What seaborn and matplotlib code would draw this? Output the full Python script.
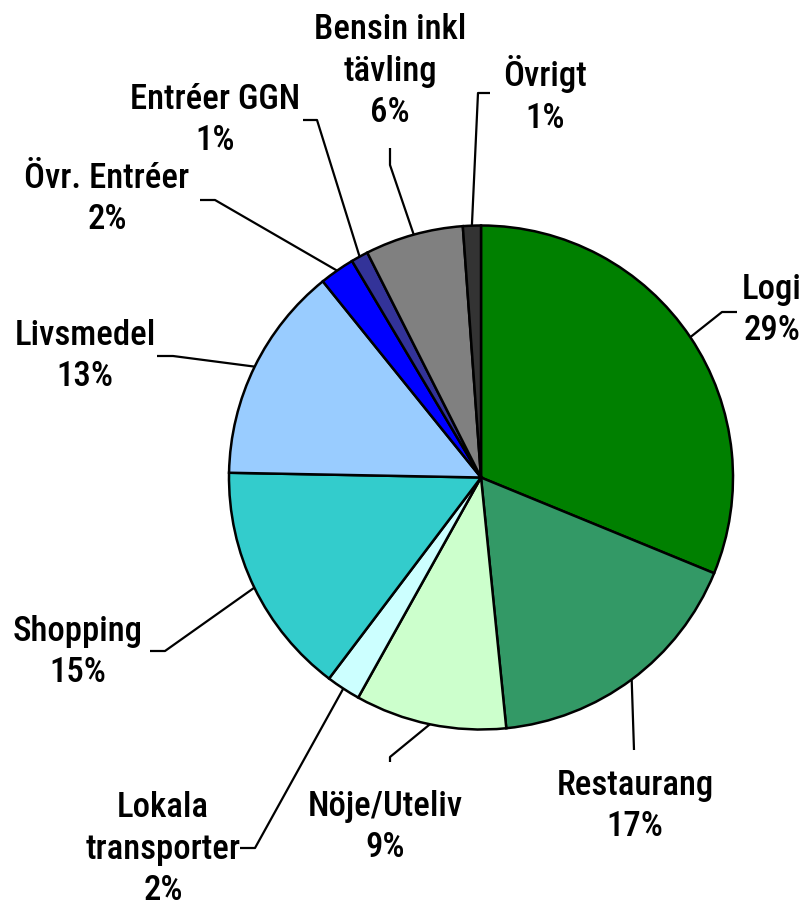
import numpy as np
import matplotlib
matplotlib.use("Agg")
import matplotlib.pyplot as plt
import seaborn as sns

# slice shares, printed labels as in the chart
categories = ["Logi", "Restaurang", "Nöje/Uteliv", "Lokala\ntransporter", "Shopping",
              "Livsmedel", "Övr. Entréer", "Entréer GGN", "Bensin inkl\ntävling", "Övrigt"]
shares = [31.2, 17.2, 9.7, 2.2, 15.0, 13.9, 2.25, 1.1, 6.3, 1.15]
pct_labels = ["29%", "17%", "9%", "2%", "15%", "13%", "2%", "1%", "6%", "1%"]
colors = ["#008000", "#339966", "#CCFFCC", "#CCFFFF", "#33CCCC",
          "#99CCFF", "#0000FF", "#333399", "#808080", "#333333"]

W, H = 805, 908

# label block centres and leader elbows, in pixels from top-left
label_pos = [(772, 310), (635, 806), (385, 827), (163, 849), (78, 652),
             (85, 356), (107, 199), (215, 120), (390, 71), (545, 95)]
leader_pts = [[(722, 312), (737, 312)],
              [(634, 750)],
              [(390, 757), (390, 762)],
              [(255, 848), (240, 848)],
              [(165, 651), (150, 651)],
              [(173, 356), (157, 356)],
              [(215, 200), (200, 200)],
              [(317, 120), (303, 120)],
              [(390, 165), (390, 148)],
              [(478, 93), (490, 93)]]

sns.set_theme(style="white")
plt.rcParams["font.family"] = ["Roboto Condensed", "Archivo Narrow", "Liberation Sans", "DejaVu Sans"]


def px(x, y):
    return x, H - y


fig = plt.figure(figsize=(W / 100, H / 100), dpi=100)
ax = fig.add_axes([0, 0, 1, 1])

cx, cy = px(481, 477.5)
radius = 252
wedges, _ = ax.pie(shares, colors=colors, startangle=90, counterclock=False,
                   center=(cx, cy), radius=radius,
                   wedgeprops=dict(edgecolor="black", linewidth=1.8))

for w, name, pct, pos, pts in zip(wedges, categories, pct_labels, label_pos, leader_pts):
    mid = np.deg2rad((w.theta1 + w.theta2) / 2)
    xs = [cx + radius * np.cos(mid)] + [px(*p)[0] for p in pts]
    ys = [cy + radius * np.sin(mid)] + [px(*p)[1] for p in pts]
    ax.plot(xs, ys, color="black", lw=1.6, solid_capstyle="butt")
    tx, ty = px(*pos)
    ax.text(tx, ty, f"{name}\n{pct}", ha="center", va="center",
            fontsize=25, fontweight="medium", linespacing=1.32, color="black")

ax.set_xlim(0, W)
ax.set_ylim(0, H)
ax.set_aspect("equal")
ax.axis("off")

fig.savefig("out.png", dpi=100, facecolor="white")
